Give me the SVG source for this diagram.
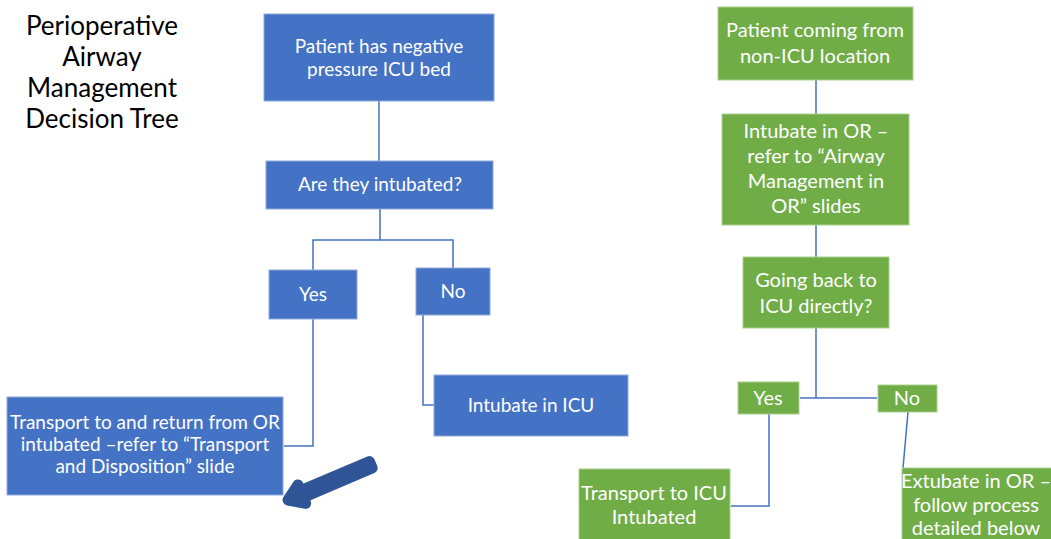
<svg xmlns="http://www.w3.org/2000/svg" width="1051" height="539" viewBox="0 0 1051 539">
<style>
.title{font-family:Lato,"Open Sans","Liberation Sans",sans-serif;font-size:26px;fill:#000;text-anchor:middle}
.b{fill:#4472C4;stroke:#8FAADC;stroke-width:1}
.g{fill:#70AD47;stroke:#A9D18E;stroke-width:1}
.t{font-family:Lato,"Open Sans","Liberation Sans",sans-serif;fill:#fff;text-anchor:middle}
.tb{font-size:19px}
.tg{font-size:20px}
.c{fill:none;stroke:#4472C4;stroke-width:1.5}
</style>
<rect width="1051" height="539" fill="#fff"/>
<g id="title">
<text class="title" x="102" y="35">Perioperative</text>
<text class="title" x="102" y="66">Airway</text>
<text class="title" x="102" y="97">Management</text>
<text class="title" x="102" y="128">Decision Tree</text>
</g>
<g id="connectors">
<path class="c" d="M379,101 V161"/>
<path class="c" d="M380,209 V240 H313 V270"/>
<path class="c" d="M380,240 H453 V268"/>
<path class="c" d="M313,319 V446 H284"/>
<path class="c" d="M423,315 V405 H434"/>
<path class="c" d="M816,80 V114"/>
<path class="c" d="M816,225 V257"/>
<path class="c" d="M816,328 V398"/>
<path class="c" d="M800,398 H877"/>
<path class="c" d="M769,414 V506 H731"/>
<path class="c" d="M908,412 L903,468"/>
</g>
<g id="n1"><rect class="b" x="264" y="14" width="230" height="87"/>
<text class="t tb" x="379" y="53">Patient has negative</text>
<text class="t tb" x="379" y="76">pressure ICU bed</text></g>
<g id="n2"><rect class="b" x="266" y="161" width="227" height="48"/>
<text class="t tb" x="380" y="191">Are they intubated?</text></g>
<g id="n3"><rect class="b" x="269" y="270" width="88" height="49"/>
<text class="t tb" x="313" y="301">Yes</text></g>
<g id="n4"><rect class="b" x="416" y="268" width="74" height="47"/>
<text class="t tb" x="453" y="298">No</text></g>
<g id="n5"><rect class="b" x="7" y="397" width="276" height="98"/>
<text class="t tb" x="145" y="429">Transport to and return from OR</text>
<text class="t tb" x="145" y="451">intubated –refer to “Transport</text>
<text class="t tb" x="145" y="473">and Disposition” slide</text></g>
<g id="n6"><rect class="b" x="434" y="375" width="194" height="61"/>
<text class="t tb" x="531" y="412">Intubate in ICU</text></g>
<g id="arrow"><polygon points="0,0 15,-10 15,-3.5 90,-3.5 90,3.5 15,3.5 15,10" transform="translate(288,500) rotate(-23)" fill="#4472C4" stroke="#2F5597" stroke-width="11" stroke-linejoin="round"/></g>
<g id="g1"><rect class="g" x="718" y="7" width="195" height="73"/>
<text class="t tg" x="815" y="37">Patient coming from</text>
<text class="t tg" x="815" y="63">non-ICU location</text></g>
<g id="g2"><rect class="g" x="722" y="114" width="187" height="111"/>
<text class="t tg" x="816" y="138">Intubate in OR –</text>
<text class="t tg" x="816" y="163">refer to “Airway</text>
<text class="t tg" x="816" y="188">Management in</text>
<text class="t tg" x="816" y="213">OR” slides</text></g>
<g id="g3"><rect class="g" x="743" y="257" width="146" height="71"/>
<text class="t tg" x="816" y="287">Going back to</text>
<text class="t tg" x="816" y="313">ICU directly?</text></g>
<g id="g4"><rect class="g" x="738" y="382" width="61" height="32"/>
<text class="t tg" x="768" y="405">Yes</text></g>
<g id="g5"><rect class="g" x="878" y="385" width="59" height="27"/>
<text class="t tg" x="907" y="405">No</text></g>
<g id="g6"><rect class="g" x="579" y="469" width="151" height="75"/>
<text class="t tg" x="654" y="500">Transport to ICU</text>
<text class="t tg" x="654" y="524">Intubated</text></g>
<g id="g7"><rect class="g" x="902" y="468" width="155" height="76"/>
<text class="t tg" x="976" y="488">Extubate in OR –</text>
<text class="t tg" x="976" y="512">follow process</text>
<text class="t tg" x="976" y="535">detailed below</text></g>
</svg>
